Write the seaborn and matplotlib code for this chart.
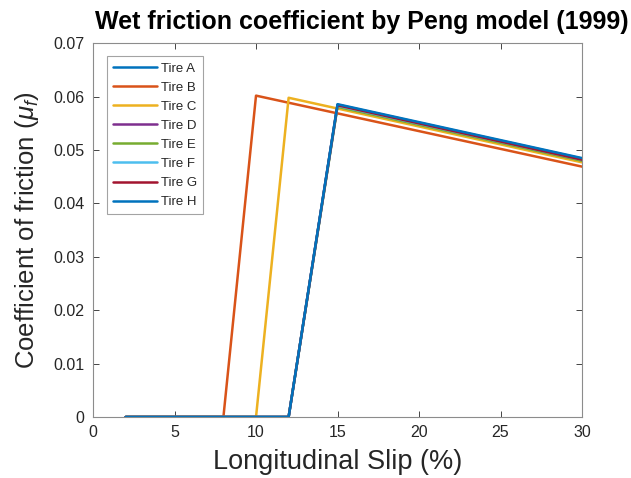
import numpy as np
import pandas as pd
import matplotlib
matplotlib.use("Agg")
import matplotlib.pyplot as plt
import seaborn as sns

tires = ["Tire A", "Tire B", "Tire C", "Tire D", "Tire E", "Tire F", "Tire G", "Tire H"]
colors = ["#0072BD", "#D95319", "#EDB120", "#7E2F8E", "#77AC30", "#4DBEEE", "#A2142F", "#0072BD"]
# slip breakpoints: start, onset, peak, end
slip_start = [2, 2, 2, 2, 2, 2, 2, 2]
slip_onset = [12, 8, 10, 12, 12, 12, 12, 12]
slip_peak = [15, 10, 12, 15, 15, 15, 15, 15]
slip_end = [30, 30, 30, 30, 30, 30, 30, 30]
mu_peak = [0.0585, 0.0602, 0.0598, 0.0584, 0.0581, 0.0583, 0.0584, 0.0586]
mu_end = [0.0484, 0.0469, 0.0477, 0.0481, 0.0480, 0.0482, 0.0482, 0.0485]

rows = []
for i, t in enumerate(tires):
    xs = [slip_start[i], slip_onset[i], slip_peak[i], slip_end[i]]
    ys = [0.0, 0.0, mu_peak[i], mu_end[i]]
    for k, (x, y) in enumerate(zip(xs, ys)):
        rows.append({"tire": t, "order": k, "slip": x, "mu": y})
df = pd.DataFrame(rows)

sns.set_theme(style="white")
plt.rcParams["font.family"] = ["Liberation Sans", "DejaVu Sans"]
plt.rcParams["mathtext.fontset"] = "custom"
plt.rcParams["mathtext.it"] = "Liberation Sans:italic"
plt.rcParams["mathtext.rm"] = "Liberation Sans"

fig = plt.figure(figsize=(6.31, 4.78), dpi=100)
ax = fig.add_axes([0.1474, 0.1276, 0.775, 0.7818])

sns.lineplot(data=df, x="slip", y="mu", hue="tire", units="tire", estimator=None,
             sort=False, palette=dict(zip(tires, colors)), hue_order=tires,
             linewidth=1.8, ax=ax)

ax.set_xlim(0, 30)
ax.set_ylim(0, 0.07)
ax.set_xticks([0, 5, 10, 15, 20, 25, 30])
ax.set_yticks(np.arange(0, 0.0701, 0.01))
ax.set_yticklabels(["0", "0.01", "0.02", "0.03", "0.04", "0.05", "0.06", "0.07"])
ax.tick_params(axis="both", direction="in", length=4, width=0.6, labelsize=11.5,
               colors="#262626", top=True, right=True, bottom=True, left=True, pad=6)
for s in ax.spines.values():
    s.set_color("#8c8c8c")
    s.set_linewidth(0.8)

ax.set_xlabel("Longitudinal Slip (%)", fontsize=19.5, color="#262626", labelpad=6)
ax.set_ylabel(r"Coefficient of friction ($\mu_f$)", fontsize=18.5, color="#262626", labelpad=9)
ax.set_title("Wet friction coefficient by Peng model (1999)", fontsize=18,
             fontweight="bold", color="black", pad=10, x=0.55)

leg = ax.legend(loc="upper left", bbox_to_anchor=(0.029, 0.965), fontsize=9.5,
                frameon=True, fancybox=False, handlelength=3.3, handletextpad=0.35,
                labelspacing=0.52, borderpad=0.45, borderaxespad=0)
leg.get_frame().set_edgecolor("#8c8c8c")
leg.get_frame().set_linewidth(0.8)
leg.set_title(None)

fig.savefig("out.png", dpi=100)
